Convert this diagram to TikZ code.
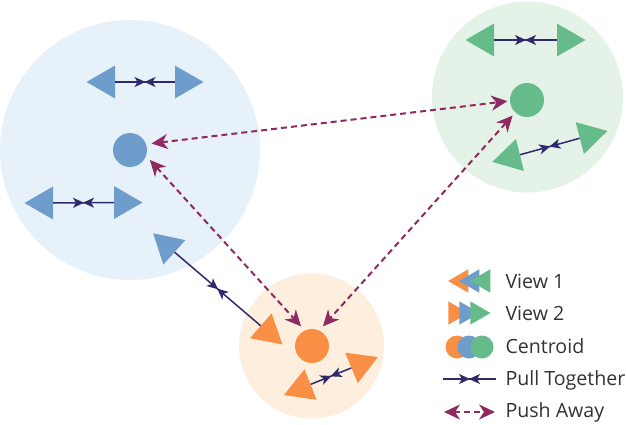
\documentclass[tikz,border=0pt]{standalone}
\usepackage{fontspec}
\setmainfont{Open Sans}
\usetikzlibrary{shapes.geometric,arrows.meta,decorations.markings}
\definecolor{blueMain}{HTML}{6E9DCB}
\definecolor{bluePale}{HTML}{E6F1FA}
\definecolor{greenMain}{HTML}{66BB8A}
\definecolor{greenPale}{HTML}{E5F2E8}
\definecolor{orangeMain}{HTML}{F98F45}
\definecolor{orangePale}{HTML}{FEEEDD}
\definecolor{pullColor}{HTML}{2E2A6B}
\definecolor{pushColor}{HTML}{8E2A5F}
\tikzset{
	cluster/.style={circle,inner sep=0pt,minimum size=#1},
	centroid/.style={circle,inner sep=0pt,minimum size=34pt,fill=#1},
	keydot/.style={circle,inner sep=0pt,minimum size=23pt,fill=#1},
	view/.style={regular polygon,regular polygon sides=3,inner sep=0pt,minimum size=38pt,shape border rotate=#1},
	keyview/.style={regular polygon,regular polygon sides=3,inner sep=0pt,minimum size=27pt,shape border rotate=#1},
	pull/.style={pullColor,line width=1.5pt,postaction={decorate},decoration={markings,
		mark=at position 0.5 with {\arrow[xshift=0.5pt]{Stealth[length=11pt,width=10pt,inset=3pt]}},
		mark=at position 0.5 with {\arrowreversed[xshift=-0.5pt]{Stealth[length=11pt,width=10pt,inset=3pt]}}}},
	push/.style={pushColor,line width=2pt,dash pattern=on 6pt off 4pt,{Stealth[length=16pt,width=15pt,inset=5pt]}-{Stealth[length=16pt,width=15pt,inset=5pt]}},
	keytext/.style={anchor=west,font=\fontsize{19.6}{23}\selectfont,text=black!80},
}
\begin{document}
\begin{tikzpicture}[x=1pt,y=1pt]
	\useasboundingbox (0,0) rectangle (626,424);
	
	\node[cluster=260pt,fill=bluePale] (blueCluster) at (130,274) {};
	\node[cluster=191pt,fill=greenPale] (greenCluster) at (527.5,327) {};
	\node[cluster=145pt,fill=orangePale] (orangeCluster) at (311.5,78) {};
	
	\node[centroid=blueMain] (blueC) at (130,274) {};
	\node[centroid=greenMain] (greenC) at (527,324) {};
	\node[centroid=orangeMain] (orangeC) at (312,78) {};
	
	\node[view=90,fill=blueMain] (blueA) at (105.5,342) {};
	\node[view=-90,fill=blueMain] (blueB) at (184.5,342) {};
	\node[view=90,fill=blueMain] (blueD) at (43.5,221) {};
	\node[view=-90,fill=blueMain] (blueE) at (123.5,221.5) {};
	\node[view=48,fill=blueMain] (blueF) at (167.3,178) {};
	
	\node[view=-131,fill=orangeMain] (orangeA) at (268,92) {};
	\node[view=111.6,fill=orangeMain] (orangeB) at (301.7,36) {};
	\node[view=-67.6,fill=orangeMain] (orangeD) at (360.3,59.7) {};
	
	\node[view=90,fill=greenMain] (greenA) at (484.5,384) {};
	\node[view=-90,fill=greenMain] (greenB) at (566.5,384) {};
	\node[view=104,fill=greenMain] (greenD) at (510.7,266.7) {};
	\node[view=-75.4,fill=greenMain] (greenE) at (589,288.3) {};
	
	\draw[pull] (blueA) -- (blueB);
	\draw[pull] (blueD) -- (blueE);
	\draw[pull] (blueF) -- (orangeA);
	\draw[pull] (orangeB) -- (orangeD);
	\draw[pull] (greenA) -- (greenB);
	\draw[pull] (greenD) -- (greenE);
	
	\draw[push,shorten <=5.5pt,shorten >=2.5pt] (blueC.20) -- (greenC.183);
	\draw[push,shorten <=5.5pt,shorten >=5.5pt] (blueC.-20) -- (orangeC.115);
	\draw[push,shorten <=4pt,shorten >=5.5pt] (greenC.227) -- (orangeC.65);
	
	\node[keyview=90,fill=orangeMain] (keyOneA) at (461.5,143) {};
	\node[keyview=90,fill=blueMain] (keyOneB) at (472.5,143) {};
	\node[keyview=90,fill=greenMain] (keyOneC) at (483.5,143) {};
	\node[keyview=-90,fill=orangeMain] (keyTwoA) at (455,111) {};
	\node[keyview=-90,fill=blueMain] (keyTwoB) at (466,111) {};
	\node[keyview=-90,fill=greenMain] (keyTwoC) at (477,111) {};
	\node[keydot=orangeMain] (keyDotA) at (457,77) {};
	\node[keydot=blueMain] (keyDotB) at (469,77) {};
	\node[keydot=greenMain] (keyDotC) at (482,77) {};
	
	\coordinate (keyPullL) at (443,45);
	\coordinate (keyPullR) at (496,45);
	\coordinate (keyPushL) at (444,12);
	\coordinate (keyPushR) at (495,12);
	\draw[pull] (keyPullL) -- (keyPullR);
	\draw[push] (keyPushL) -- (keyPushR);
	
	\node[keytext] (textOne) at (502,143) {View 1};
	\node[keytext] (textTwo) at (502,111) {View 2};
	\node[keytext] (textDot) at (502,78) {Centroid};
	\node[keytext] (textPull) at (502,44) {Pull Together};
	\node[keytext] (textPush) at (502,11.5) {Push Away};
\end{tikzpicture}
\end{document}
